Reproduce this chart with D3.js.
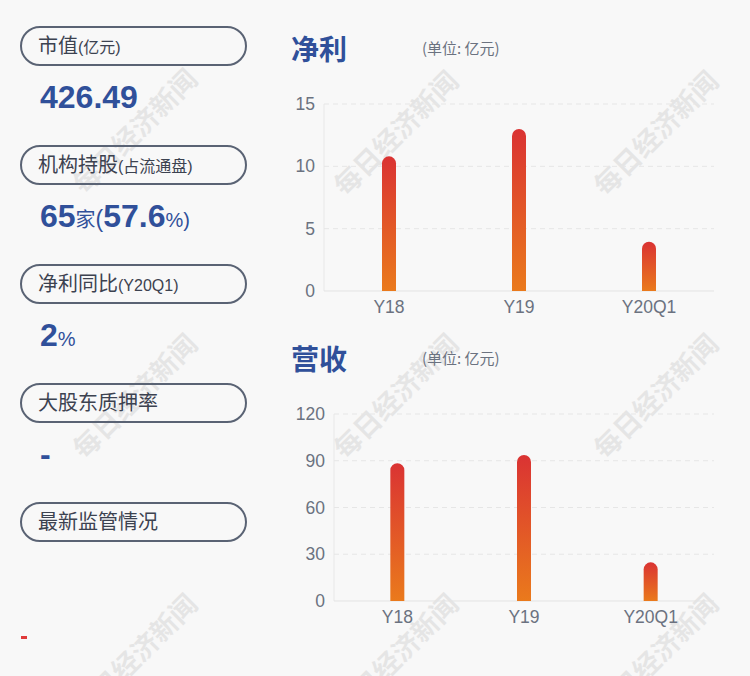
<!DOCTYPE html>
<html><head><meta charset="utf-8">
<script src="https://cdn.jsdelivr.net/npm/d3@7"></script>
<style>
html,body{margin:0;padding:0;background:#f8f8f8;}
svg{display:block;font-family:"Liberation Sans","Noto Sans CJK SC",sans-serif;}
</style></head>
<body><svg id="c" width="750" height="676"></svg>
<script>
const categories = ["Y18", "Y19", "Y20Q1"];
const profitValues = [10.8, 13.0, 3.95];
const revenueValues = [88.4, 93.7, 24.8];
const profitTicks = [0, 5, 10, 15];
const revenueTicks = [0, 30, 60, 90, 120];
const panelLabels = [["市值", "(亿元)"], ["机构持股", "(占流通盘)"], ["净利同比", "(Y20Q1)"], ["大股东质押率", ""], ["最新监管情况", ""]];
const panelValues = [
  [["426.49", 32, "bold"]],
  [["65", 32, "bold"], ["家", 20, "normal"], ["(", 23, "normal"], ["57.6", 32, "bold"], ["%)", 20, "normal"]],
  [["2", 32, "bold"], ["%", 20, "normal"]],
  [["-", 32, "bold"]],
  []
];

const svg = d3.select("#c");
const blue = "#30509a", grey = "#6b7280";

// watermarks
const wm = svg.append("g");
[[134,130],[395,132],[655,132],[134,395],[395,395],[655,395],[134,655],[395,655],[655,655]].forEach(([x,y]) => {
  wm.append("text").attr("transform", `translate(${x},${y}) rotate(-45)`)
    .attr("text-anchor","middle").attr("dominant-baseline","central")
    .attr("font-size",27).attr("font-weight","bold").attr("fill","#000").attr("opacity",0.07)
    .attr("font-family","Noto Sans CJK SC").text("每日经济新闻");
});

// left panels
panelLabels.forEach((lab, i) => {
  const top = 27 + i * 119;
  const g = svg.append("g");
  g.append("rect").attr("x",21).attr("y",top).attr("width",225).attr("height",38)
    .attr("rx",19).attr("fill","none").attr("stroke","#5a6374").attr("stroke-width",2);
  const t = g.append("text").attr("x",38).attr("y",top+26).attr("fill","#3c4250")
    .attr("font-family","Noto Sans CJK SC");
  t.append("tspan").attr("font-size",20).text(lab[0]);
  if (lab[1]) t.append("tspan").attr("font-size",16).attr("font-family","Liberation Sans, Noto Sans CJK SC").text(lab[1]);
  const vals = panelValues[i];
  if (vals.length) {
    const v = g.append("text").attr("x",40).attr("y",top+81).attr("fill",blue);
    vals.forEach(([s, fs, fw]) => v.append("tspan").attr("font-size",fs).attr("font-weight",fw)
      .attr("font-family", /[\u4e00-\u9fff]/.test(s) ? "Noto Sans CJK SC" : "Liberation Sans").text(s));
  }
});
svg.append("rect").attr("x",21).attr("y",636).attr("width",6).attr("height",3).attr("fill","#e03a3a");

// gradient
const defs = svg.append("defs");
const grad = defs.append("linearGradient").attr("id","bg").attr("x1",0).attr("y1",0).attr("x2",0).attr("y2",1);
grad.append("stop").attr("offset","0%").attr("stop-color","#da3333");
grad.append("stop").attr("offset","100%").attr("stop-color","#ea7a1c");

function chart(title, values, ticks, top, x0, x1, y0, y1) {
  const g = svg.append("g");
  g.append("text").attr("x",291).attr("y",top+30).attr("font-size",28).attr("font-weight","bold")
    .attr("fill",blue).attr("font-family","Noto Sans CJK SC").text(title);
  g.append("text").attr("x",422).attr("y",top+24).attr("font-size",15).attr("fill",grey)
    .attr("font-family","Noto Sans CJK SC").text("(单位: 亿元)");
  const x = d3.scaleBand().domain(categories).range([x0, x1]);
  const y = d3.scaleLinear().domain([0, d3.max(ticks)]).range([y0, y1]);
  ticks.forEach(t => {
    if (t > 0) g.append("line").attr("x1",x0).attr("x2",x1).attr("y1",y(t)).attr("y2",y(t))
      .attr("stroke","#e6e6e6").attr("stroke-dasharray","5,4");
  });
  g.append("line").attr("x1",x0).attr("x2",x0).attr("y1",y1).attr("y2",y0).attr("stroke","#e8e8e8");
  g.append("line").attr("x1",x0).attr("x2",x1).attr("y1",y0).attr("y2",y0).attr("stroke","#e3e3e3");
  const ya = d3.axisLeft(y).tickValues(ticks).tickSize(0).tickPadding(9);
  const ay = g.append("g").attr("transform",`translate(${x0},0)`).call(ya);
  ay.select(".domain").remove();
  ay.selectAll("text").attr("font-size",17.5).attr("fill",grey).attr("font-family","Liberation Sans");
  const xa = d3.axisBottom(x).tickSize(0).tickPadding(10);
  const ax = g.append("g").attr("transform",`translate(0,${y0})`).call(xa);
  ax.select(".domain").remove();
  ax.selectAll("text").attr("font-size",17.5).attr("fill",grey).attr("font-family","Liberation Sans");
  const bw = 14;
  g.selectAll(".bar").data(values).enter().append("path")
    .attr("fill","url(#bg)")
    .attr("d",(d,i) => {
      const cx = x(categories[i]) + x.bandwidth()/2, l = cx - bw/2, r = cx + bw/2, t = y(d), b = y0, rr = bw/2;
      return `M${l},${b} L${l},${t+rr} A${rr},${rr} 0 0 1 ${r},${t+rr} L${r},${b} Z`;
    });
}
chart("净利", profitValues, profitTicks, 30, 324, 714, 291, 104);
chart("营收", revenueValues, revenueTicks, 340, 334, 714, 601, 414);
</script></body></html>
